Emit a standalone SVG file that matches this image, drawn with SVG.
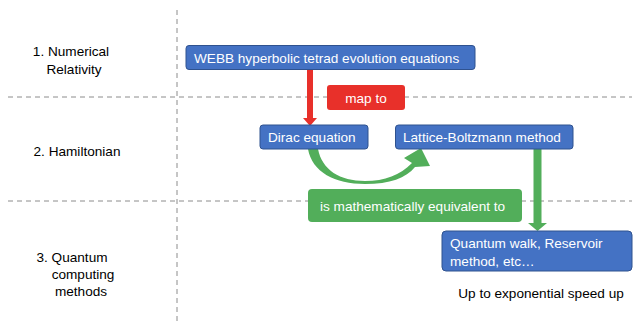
<svg xmlns="http://www.w3.org/2000/svg" width="640" height="322" viewBox="0 0 640 322">
<style>
.dash{stroke:#8c8c8c;stroke-width:1;stroke-dasharray:5,4;fill:none}
.lbl{font-family:"Liberation Sans",Arial,sans-serif;font-size:13.6px;fill:#000}
.box{fill:#4472C4;stroke:#2F528F;stroke-width:1}
.bt{font-family:"Liberation Sans",Arial,sans-serif;font-size:13.6px;fill:#fff}
</style>
<rect width="640" height="322" fill="#fff"/>
<g id="grid">
<line class="dash" x1="177" y1="10" x2="177" y2="322"/>
<line class="dash" x1="8" y1="97" x2="632" y2="97"/>
<line class="dash" x1="8" y1="201" x2="632" y2="201"/>
</g>
<g id="row-labels">
<text class="lbl" x="71" y="56" text-anchor="middle">1. Numerical</text>
<text class="lbl" x="74" y="74" text-anchor="middle">Relativity</text>
<text class="lbl" x="77" y="156" text-anchor="middle">2. Hamiltonian</text>
<text class="lbl" x="72" y="262" text-anchor="middle">3. Quantum</text>
<text class="lbl" x="83" y="279" text-anchor="middle">computing</text>
<text class="lbl" x="81" y="296" text-anchor="middle">methods</text>
</g>
<g id="connectors">
<path d="M307,69 H313 V118 H317 L310,126 L303,118 H307 Z" fill="#E8302A"/>
<path d="M533.5,149 H541.5 V223 H547 L537.5,231 L528,223 H533.5 Z" fill="#52AE5A"/>
<path d="M308,149 C312,172 335,184 365,184 C390,184 406,178 415,167 L430,166 L421,148 L404,158 L412,163 C400,175 385,181 365,181 C340,181 322,170 318,149 Z" fill="#52AE5A"/>
</g>
<g id="webb">
<rect class="box" x="186" y="45.5" width="289" height="24" rx="3"/>
<text class="bt" x="194" y="62.5">WEBB hyperbolic tetrad evolution equations</text>
</g>
<g id="mapto">
<rect x="327" y="85" width="78" height="25" rx="3" fill="#E8302A"/>
<text class="bt" x="366" y="102.5" text-anchor="middle">map to</text>
</g>
<g id="dirac">
<rect class="box" x="260" y="125" width="108" height="24" rx="3"/>
<text class="bt" x="268" y="142">Dirac equation</text>
</g>
<g id="lattice">
<rect class="box" x="395.5" y="125" width="177.5" height="24" rx="3"/>
<text class="bt" x="403" y="142">Lattice-Boltzmann method</text>
</g>
<g id="equiv">
<rect x="308" y="189" width="214" height="33" rx="4" fill="#52AE5A"/>
<text class="bt" x="320" y="210.5">is mathematically equivalent to</text>
</g>
<g id="quantum">
<rect class="box" x="442" y="231" width="190" height="40" rx="4"/>
<text class="bt" x="450" y="247.5">Quantum walk, Reservoir</text>
<text class="bt" x="450" y="265.5">method, etc…</text>
</g>
<g id="speedup">
<text class="lbl" x="541" y="298" text-anchor="middle">Up to exponential speed up</text>
</g>
</svg>
